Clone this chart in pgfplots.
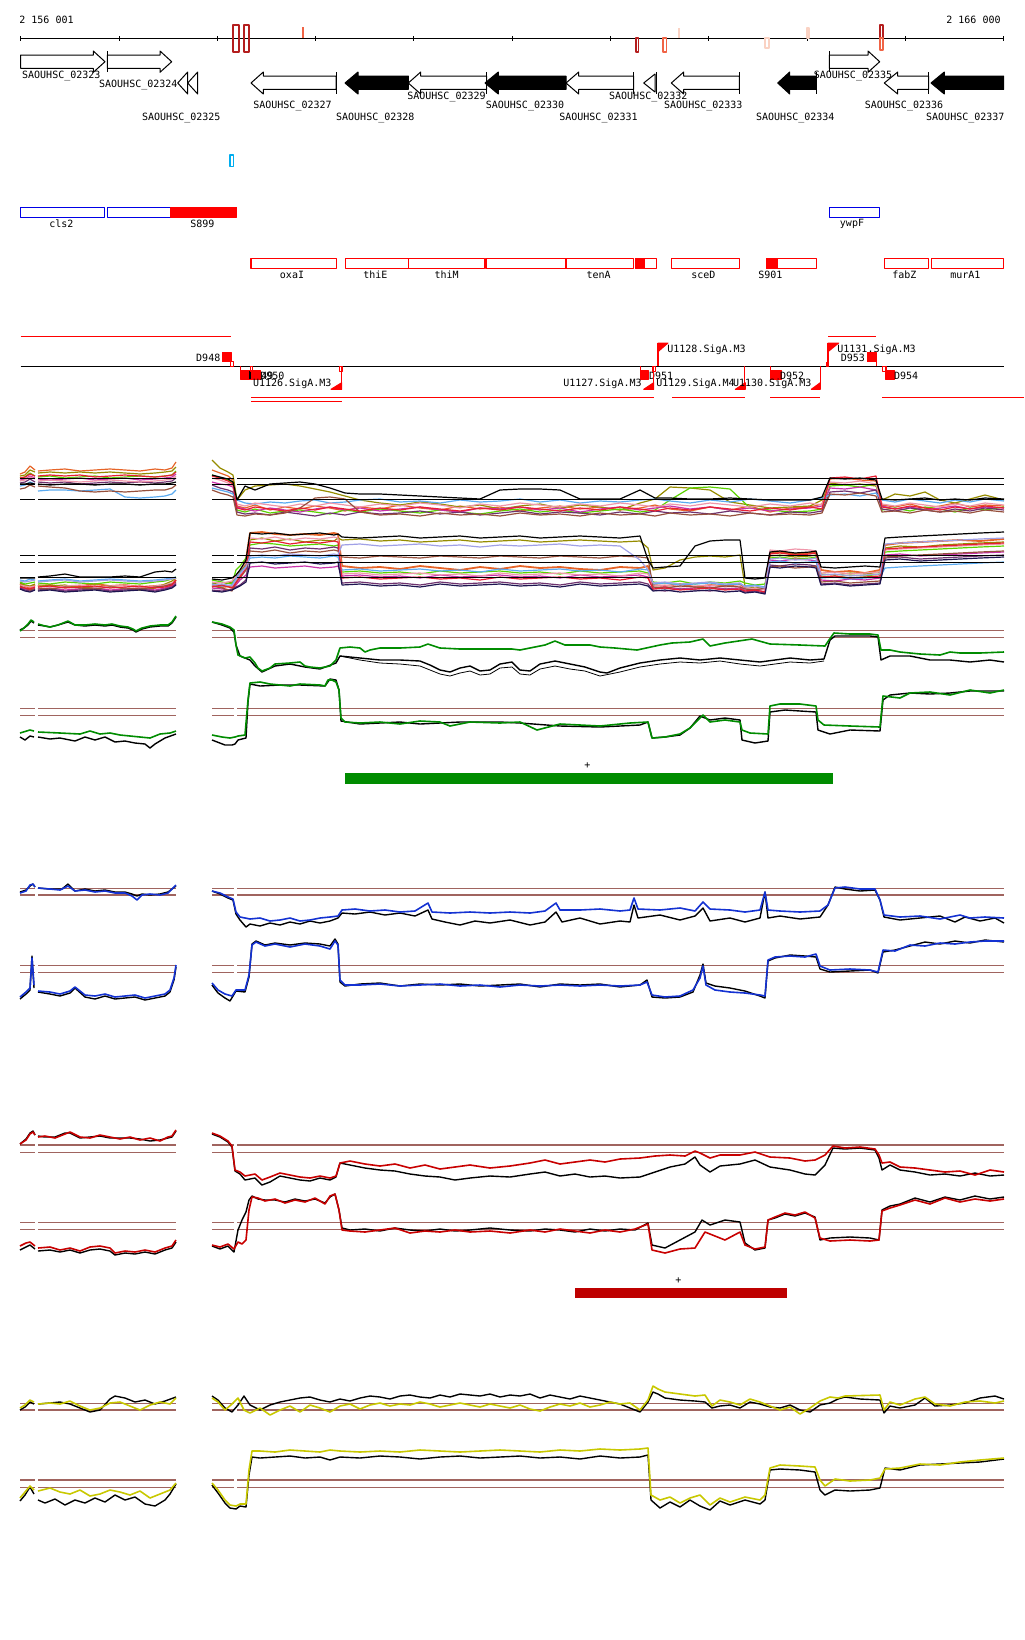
\documentclass[border=0pt]{standalone}
\usepackage{pgfplots}
\usepackage{pgfplotstable}
\pgfplotsset{compat=1.18}
\usepackage{fontspec}
\setmainfont{DejaVu Sans Mono}
\newcommand{\lbl}{\fontsize{5}{6}\selectfont}
\definecolor{brn}{RGB}{160,100,95}
\definecolor{ggr}{RGB}{0,140,0}
\definecolor{bl}{RGB}{20,50,210}
\definecolor{rdd}{RGB}{200,0,0}
\definecolor{rbar}{RGB}{190,0,0}
\definecolor{yl}{RGB}{200,200,0}
\definecolor{fr}{RGB}{255,0,0}
\definecolor{fb}{RGB}{0,0,230}
\definecolor{dkred}{RGB}{180,30,30}
\definecolor{salm}{RGB}{240,100,70}
\definecolor{ltp}{RGB}{250,210,195}
\definecolor{cA}{RGB}{230,100,40}
\definecolor{cB}{RGB}{150,140,0}
\definecolor{cC}{RGB}{90,210,0}
\definecolor{cD}{RGB}{200,50,170}
\definecolor{cE}{RGB}{110,50,110}
\definecolor{cF}{RGB}{90,170,240}
\definecolor{cG}{RGB}{240,150,170}
\definecolor{cH}{RGB}{150,80,60}
\definecolor{cI}{RGB}{230,30,50}
\definecolor{cJ}{RGB}{160,160,230}
\definecolor{cK}{RGB}{30,20,80}
\newcommand{\rect}[5]{\addplot[#1] coordinates {(#2,#3)(#4,#3)(#4,#5)(#2,#5)} -- cycle;}
\newcommand{\vl}[4]{\addplot[#1] coordinates {(#2,#3)(#2,#4)};}
\newcommand{\hl}[2]{\addplot[#1] coordinates {(20,#2)(35,#2)(36,nan)(38,#2)(176,#2)(190,nan)(212,#2)(234,#2)(235.5,nan)(237,#2)(1004,#2)};}
\newcommand{\lab}[4]{\node[font=\lbl,inner sep=0pt,anchor=#1] at (axis cs:#2,#3) {#4};}

\pgfplotstableread{
x c1 c2 c3 c4 c5 c6 c7 c8 c9 k
20 474 476 478 480 483 486 481 489 478 484
25 472 475 477 479 482 485 480 488 477 484
30 466 470 473 476 479 482 477 485 474 483
35 470 472 476 478 482 484 479 487 476 484
36 nan nan nan nan nan nan nan nan nan nan
38 471 473 477 479 482 491 481 486 476 484
50 470 472 476 480 483 490 480 487 475 485
65 469 473 478 479 482 490 481 488 476 484
80 471 472 477 478 484 491 482 491 475 484
95 470 473 476 480 483 490 481 492 477 485
110 469 472 478 479 482 489 480 491 476 484
125 470 473 477 478 483 497 481 492 475 484
140 471 474 476 480 482 498 482 491 476 485
155 469 473 477 479 483 497 481 490 477 484
165 470 472 476 478 482 496 480 490 476 484
172 468 471 475 477 481 494 479 488 475 483
176 462 467 471 474 478 490 476 485 472 482
190 nan nan nan nan nan nan nan nan nan nan
212 470 460 475 482 485 488 478 490 476 475
220 473 468 478 484 488 490 480 493 478 477
228 476 472 480 485 490 492 483 495 481 479
233 480 475 483 487 492 494 486 497 484 482
237 506 500 510 507 512 500 504 515 508 500
245 508 490 512 509 514 503 506 516 510 486
255 505 486 509 511 513 504 503 514 507 490
270 510 485 513 508 515 502 505 515 509 484
285 507 484 511 510 512 503 507 513 511 483
300 509 486 510 512 514 501 504 508 508 482
315 506 489 512 509 516 500 506 498 510 484
330 508 492 514 507 513 503 503 497 507 488
345 511 496 510 510 515 502 505 499 509 493
360 507 500 512 508 512 500 507 512 511 494
380 509 503 509 511 514 499 504 515 508 494
400 505 505 511 509 513 502 506 514 510 495
420 508 502 513 507 511 501 503 516 507 496
440 510 504 510 510 514 503 505 513 509 497
460 506 507 512 512 512 500 508 515 511 498
480 509 505 514 508 515 502 504 514 508 499
500 507 509 511 509 513 501 506 516 510 490
520 511 506 509 507 511 499 503 513 507 489
540 508 504 512 510 514 502 505 515 509 489
560 506 508 510 508 512 500 507 514 511 490
580 509 505 513 512 513 503 504 516 508 499
600 507 507 511 509 515 501 506 513 510 499
620 510 510 509 507 512 502 503 515 507 499
640 508 503 512 510 514 500 505 514 509 490
655 505 499 510 508 511 499 507 516 511 498
670 509 487 500 506 513 501 504 513 508 498
690 511 488 488 509 512 503 506 515 510 499
710 507 490 487 507 514 500 503 514 507 499
730 510 502 489 510 511 502 505 516 509 498
750 506 505 508 508 513 499 507 513 511 499
770 512 508 510 511 515 501 504 515 508 500
790 508 507 512 509 512 503 506 514 510 500
810 507 506 511 508 513 500 503 515 507 500
822 504 500 509 506 511 498 505 513 509 497
830 479 483 486 488 492 495 482 494 478 478
845 478 485 485 489 491 494 483 495 477 479
860 480 484 487 487 493 496 481 493 479 478
876 481 486 484 490 490 493 484 496 476 480
882 505 500 510 506 509 500 504 512 507 499
895 507 494 508 509 511 502 506 511 509 500
910 504 496 511 507 508 499 503 513 506 499
925 508 492 507 510 510 501 505 510 508 498
940 506 500 509 508 512 503 507 512 510 500
955 503 503 512 506 509 500 504 511 507 499
970 507 499 508 509 511 502 506 513 509 500
985 505 495 510 507 508 499 503 510 506 498
1004 506 500 507 508 510 501 505 512 508 499
}\tA

\pgfplotstableread{
x c1 c2 c3 c4 c5 c6 c7 c8 c9 c10 c11 k
20 584 583 582 587 588 580 585 586 587 581 589 578
25 586 585 584 589 590 581 586 588 588 582 591 578
30 588 586 583 590 591 579 587 590 589 581 592 578
35 585 584 582 588 589 580 586 589 587 580 590 578
36 nan nan nan nan nan nan nan nan nan nan nan nan
38 586 585 583 589 590 581 586 588 587 582 591 577
50 585 586 584 588 589 580 587 589 586 581 590 576
65 587 585 582 590 591 579 586 587 588 580 592 574
80 586 588 583 589 590 581 585 588 587 582 591 577
95 584 587 584 588 589 580 587 589 586 581 590 577
110 586 586 582 590 591 579 586 587 588 580 592 577
125 585 589 583 589 590 580 585 588 587 581 591 576
140 587 590 584 588 589 581 587 589 586 582 590 577
155 586 588 582 590 591 580 586 587 588 581 592 572
165 585 584 581 588 589 579 585 586 587 580 590 571
172 584 581 579 586 587 578 583 584 585 579 588 572
176 580 578 577 583 584 577 581 582 580 578 585 569
190 nan nan nan nan nan nan nan nan nan nan nan nan
212 585 583 580 588 590 584 582 586 587 585 591 579
222 587 585 582 589 591 586 583 588 585 584 592 580
232 586 582 584 590 589 585 581 591 588 586 590 578
236 580 578 570 585 587 578 576 582 583 580 588 575
240 575 572 566 580 585 573 570 578 577 574 586 570
246 560 565 558 575 580 566 562 570 568 567 582 560
250 533 540 545 567 548 558 538 551 542 556 563 533
262 532 538 543 566 549 557 539 552 543 555 562 534
275 534 541 544 568 547 558 537 550 541 556 564 533
290 535 539 546 567 550 556 540 553 544 554 563 535
305 534 542 545 566 548 557 538 551 542 555 562 534
320 535 540 544 568 549 558 539 552 543 556 564 533
334 533 541 546 567 547 556 537 550 541 554 563 535
338 534 538 545 566 548 557 538 551 542 555 562 534
342 566 540 572 576 583 570 574 557 578 545 585 537
360 568 539 571 575 582 569 573 558 577 544 584 538
380 567 541 573 577 584 571 575 556 579 546 586 537
400 569 540 572 576 583 570 574 557 578 545 585 536
420 566 542 574 578 585 569 573 558 577 544 587 538
440 568 541 571 575 582 571 575 556 579 546 584 537
460 570 540 573 577 584 570 574 557 578 545 586 536
480 567 542 572 576 583 572 576 558 580 547 585 538
500 569 541 571 575 582 569 573 556 577 545 584 537
520 566 540 573 577 584 571 575 557 579 546 586 536
540 568 542 572 576 583 570 574 558 578 545 585 538
560 567 541 574 578 585 569 573 556 577 544 587 537
580 569 540 571 575 582 571 575 557 579 546 584 536
600 570 541 573 577 584 570 574 558 578 545 586 537
620 567 542 572 576 583 572 576 556 580 546 585 538
640 568 541 571 575 582 569 573 557 577 560 584 536
648 566 548 573 577 584 570 574 558 578 570 586 560
653 585 570 582 588 590 584 586 587 589 583 591 568
665 586 568 583 587 591 583 585 588 588 582 590 567
680 584 560 581 589 589 585 587 586 590 584 592 566
695 587 557 584 588 590 584 586 587 589 583 591 546
710 585 556 582 587 591 583 585 588 588 582 590 541
725 586 557 583 589 589 585 587 586 590 584 592 540
740 584 555 581 588 590 584 586 587 589 583 591 540
745 588 586 583 590 592 586 589 589 591 587 593 578
755 590 588 585 591 591 585 588 590 590 586 592 579
765 589 587 584 589 593 587 590 588 592 588 594 578
770 553 556 558 560 565 562 550 567 554 559 567 552
780 552 555 557 561 566 561 551 566 553 558 568 551
795 554 557 559 559 564 563 549 568 555 560 566 553
810 553 556 558 560 565 562 550 567 554 559 567 552
816 552 555 557 561 566 561 551 566 553 558 568 551
821 570 574 576 580 584 578 573 582 577 575 585 567
835 572 575 577 581 583 577 572 581 576 574 584 568
850 571 573 575 579 585 579 574 583 578 576 586 567
865 573 574 576 580 584 578 573 582 577 575 585 566
880 570 572 574 578 583 577 572 581 576 574 584 567
885 545 548 552 555 558 568 550 557 549 544 560 538
900 543 546 551 554 557 567 549 556 548 543 559 537
920 542 547 550 556 559 566 548 555 547 542 561 536
940 541 545 549 555 558 565 547 554 546 541 560 535
960 540 544 548 554 557 564 546 553 545 540 559 534
980 541 543 547 553 556 563 545 552 544 539 558 533
1004 539 542 546 552 555 562 544 551 543 538 557 532
}\tB

\begin{document}
\begin{tikzpicture}
\begin{axis}[
  width=512pt, height=820pt, scale only axis,
  xmin=0, xmax=1024, ymin=0, ymax=1640, y dir=reverse,
  axis lines=none, ticks=none, clip=false,
  unbounded coords=jump, no markers,
  every axis plot/.append style={line width=0.5pt, line join=round},
]
\addplot[draw=none] coordinates {(0,0)(1024,1640)};

% ---------- ruler ----------
\lab{west}{19}{20}{2 156 001}
\lab{east}{1001}{20}{2 166 000}
\addplot[black] coordinates {(20.7,38.3)(1003.7,38.3)};
\addplot[black] coordinates {(20.7,36.3)(20.7,40.5)(21,nan)(119,36.3)(119,40.5)(120,nan)(217.3,36.3)(217.3,40.5)(218,nan)(315.6,36.3)(315.6,40.5)(316,nan)(413.9,36.3)(413.9,40.5)(414,nan)(512.2,36.3)(512.2,40.5)(513,nan)(610.5,36.3)(610.5,40.5)(611,nan)(708.8,36.3)(708.8,40.5)(709,nan)(807.1,36.3)(807.1,40.5)(808,nan)(905.4,36.3)(905.4,40.5)(906,nan)(1003.7,36.3)(1003.7,40.5)};
\rect{dkred,line width=0.7pt}{233}{25}{239}{52}
\rect{dkred,line width=0.7pt}{244}{25}{249}{52}
\vl{salm,line width=1pt}{302.7}{27}{38}
\rect{dkred,line width=0.7pt}{636}{38}{638.7}{52}
\rect{salm,line width=0.7pt}{663}{38}{666.7}{52}
\vl{ltp,line width=1pt}{679.3}{28}{38}
\rect{ltp,line width=0.7pt}{765}{38}{769}{48}
\rect{ltp,line width=0.7pt}{807}{28}{809}{38}
\rect{dkred,line width=0.7pt}{880}{25}{883}{38}
\rect{salm,line width=0.7pt}{880}{38}{883}{50}

% ---------- genes ----------
\addplot[black,fill=white] coordinates {(20.7,55)(93.3,55)(93.3,51)(105,61.7)(93.3,72.3)(93.3,68.3)(20.7,68.3)} -- cycle;
\addplot[black,fill=white] coordinates {(107.3,55)(160,55)(160,51)(171.7,61.7)(160,72.3)(160,68.3)(107.3,68.3)} -- cycle;
\vl{black}{107.3}{51}{72.3}
\addplot[black,fill=white] coordinates {(177.7,83)(187.7,72)(187.7,94)} -- cycle;
\addplot[black,fill=white] coordinates {(187.7,83)(197.7,72)(197.7,94)} -- cycle;
\addplot[black,fill=white] coordinates {(251,83)(263.3,72)(263.3,76)(336,76)(336,89.3)(263.3,89.3)(263.3,94)} -- cycle;
\vl{black}{336}{72}{94}
\addplot[black,fill=black] coordinates {(345,83)(358,72)(358,76)(408.3,76)(408.3,89.3)(358,89.3)(358,94)} -- cycle;
\addplot[black,fill=white] coordinates {(408.3,83)(420.7,72)(420.7,76)(486.7,76)(486.7,89.3)(420.7,89.3)(420.7,94)} -- cycle;
\vl{black}{486.7}{72}{94}
\addplot[black,fill=black] coordinates {(485,83)(498.3,72)(498.3,76)(566,76)(566,89.3)(498.3,89.3)(498.3,94)} -- cycle;
\addplot[black,fill=white] coordinates {(566,83)(578.7,72)(578.7,76)(633.7,76)(633.7,89.3)(578.7,89.3)(578.7,94)} -- cycle;
\vl{black}{633.7}{72}{94}
\addplot[black,fill=white] coordinates {(643.7,83)(655,74)(655,92)} -- cycle;
\vl{black}{656}{72}{94}
\addplot[black,fill=white] coordinates {(671.3,83)(683.7,72)(683.7,76)(739.3,76)(739.3,89.3)(683.7,89.3)(683.7,94)} -- cycle;
\vl{black}{739.3}{72}{94}
\addplot[black,fill=black] coordinates {(777.7,83)(789.7,72)(789.7,76)(816.3,76)(816.3,89.3)(789.7,89.3)(789.7,94)} -- cycle;
\vl{black}{816.3}{72}{94}
\addplot[black,fill=white] coordinates {(829.3,55)(868,55)(868,51)(879.7,61.7)(868,72.3)(868,68.3)(829.3,68.3)} -- cycle;
\vl{black}{829.3}{51}{72.3}
\addplot[black,fill=white] coordinates {(884.3,83)(897.7,72)(897.7,76)(928.7,76)(928.7,89.3)(897.7,89.3)(897.7,94)} -- cycle;
\vl{black}{928.7}{72}{94}
\addplot[black,fill=black] coordinates {(931,83)(944.3,72)(944.3,76)(1003.7,76)(1003.7,89.3)(944.3,89.3)(944.3,94)} -- cycle;
\lab{center}{61.3}{76}{SAOUHSC\_02323}
\lab{center}{138.3}{85}{SAOUHSC\_02324}
\lab{center}{181.3}{117.7}{SAOUHSC\_02325}
\lab{center}{292.5}{106}{SAOUHSC\_02327}
\lab{center}{375.3}{117.7}{SAOUHSC\_02328}
\lab{center}{446.5}{97}{SAOUHSC\_02329}
\lab{center}{525}{106}{SAOUHSC\_02330}
\lab{center}{598.5}{117.7}{SAOUHSC\_02331}
\lab{center}{648.3}{97}{SAOUHSC\_02332}
\lab{center}{703.3}{106}{SAOUHSC\_02333}
\lab{center}{795.3}{117.7}{SAOUHSC\_02334}
\lab{center}{853}{76}{SAOUHSC\_02335}
\lab{center}{904}{106}{SAOUHSC\_02336}
\lab{center}{965.3}{117.7}{SAOUHSC\_02337}

% ---------- features ----------
\rect{cyan,line width=0.7pt}{230}{155}{233.7}{166.7}
\rect{fb,line width=0.7pt}{20.7}{207.3}{104.3}{217.3}
\rect{fb,line width=0.7pt}{107.3}{207.3}{171}{217.3}
\rect{fr,fill=fr,line width=0.7pt}{171}{207.3}{236.7}{217.3}
\rect{fb,line width=0.7pt}{829.3}{207.3}{879.3}{217.3}
\lab{center}{61.3}{224}{cls2}
\lab{center}{202.3}{224}{S899}
\lab{center}{852}{224}{ywpF}
\rect{fr,line width=0.7pt}{251}{258.3}{336.7}{268.3}
\rect{fr,line width=0.7pt}{345.3}{258.3}{408.3}{268.3}
\rect{fr,line width=0.7pt}{408.3}{258.3}{484.3}{268.3}
\rect{fr,line width=0.7pt}{486}{258.3}{566}{268.3}
\rect{fr,line width=0.7pt}{566}{258.3}{633.7}{268.3}
\rect{fr,line width=0.7pt}{636}{258.3}{656.7}{268.3}
\rect{fr,fill=fr,line width=0.7pt}{636}{258.3}{644}{268.3}
\rect{fr,line width=0.7pt}{671.3}{258.3}{739.7}{268.3}
\rect{fr,line width=0.7pt}{767}{258.3}{816.3}{268.3}
\rect{fr,fill=fr,line width=0.7pt}{767}{258.3}{777.7}{268.3}
\rect{fr,line width=0.7pt}{884.3}{258.3}{928.7}{268.3}
\rect{fr,line width=0.7pt}{931.3}{258.3}{1003.7}{268.3}
\lab{center}{292}{275}{oxaI}
\lab{center}{375.3}{275}{thiE}
\lab{center}{446.7}{275}{thiM}
\lab{center}{598.7}{275}{tenA}
\lab{center}{703.3}{275}{sceD}
\lab{center}{770.3}{275}{S901}
\lab{center}{904.3}{275}{fabZ}
\lab{center}{965.3}{275}{murA1}

% ---------- regulatory track ----------
\addplot[fr,line width=0.7pt] coordinates {(20.7,336.3)(230.7,336.3)};
\addplot[fr,line width=0.7pt] coordinates {(828,336.3)(876.3,336.3)};
\addplot[black,line width=0.6pt] coordinates {(20.7,366.3)(1003.7,366.3)};
\rect{fr,fill=fr}{222.3}{352.7}{231.7}{361.7}
\rect{fr}{230.7}{361.7}{233.3}{366.3}
\lab{east}{220.7}{357.7}{D948}
\lab{west}{249}{376}{D949}
\vl{fr,line width=0.7pt}{240.7}{366.3}{379.3}
\rect{fr,fill=fr}{240}{370.7}{260}{379.3}
\vl{black,line width=0.7pt}{250}{370.7}{379.3}
\rect{fr}{250}{366.3}{252.3}{371}
\lab{west}{260}{376}{D950}
\lab{west}{252.7}{383.3}{U1126.SigA.M3}
\vl{fr,line width=0.7pt}{341.3}{366.3}{389.3}
\rect{fr}{339.3}{366.3}{342.7}{371}
\addplot[fr,fill=fr] coordinates {(331,389.3)(341.7,389.3)(341.7,382.7)} -- cycle;
\vl{fr,line width=0.7pt}{640.3}{366.3}{379.3}
\rect{fr,fill=fr}{640.3}{370.7}{648.7}{379.3}
\rect{fr}{652.7}{366.3}{655.3}{371}
\lab{west}{648.7}{376}{D951}
\lab{east}{642}{383.3}{U1127.SigA.M3}
\vl{fr,line width=0.7pt}{653.7}{366.3}{389.3}
\addplot[fr,fill=fr] coordinates {(643.7,389.3)(653.7,389.3)(653.7,382.7)} -- cycle;
\vl{fr,line width=0.7pt}{658}{343}{366.3}
\addplot[fr,fill=fr] coordinates {(658,343)(668,343)(658,351.7)} -- cycle;
\lab{west}{667}{350}{U1128.SigA.M3}
\lab{west}{656}{383.3}{U1129.SigA.M4}
\vl{fr,line width=0.7pt}{744.7}{366.3}{389.3}
\addplot[fr,fill=fr] coordinates {(735.3,389.3)(745.3,389.3)(745.3,382.7)} -- cycle;
\vl{fr,line width=0.7pt}{770.7}{366.3}{379.3}
\rect{fr,fill=fr}{770.7}{370.7}{781.3}{379.3}
\lab{west}{779.7}{376}{D952}
\lab{west}{732.7}{383.3}{U1130.SigA.M3}
\vl{fr,line width=0.7pt}{820.3}{366.3}{389.3}
\addplot[fr,fill=fr] coordinates {(811.3,389.3)(820.3,389.3)(820.3,382.7)} -- cycle;
\vl{fr,line width=0.7pt}{828}{343}{366.3}
\addplot[fr,fill=fr] coordinates {(828,343)(838.7,343)(828,351.7)} -- cycle;
\rect{fr}{826}{362.3}{828.7}{366.3}
\lab{west}{837}{350}{U1131.SigA.M3}
\rect{fr,fill=fr}{867}{352.7}{876.3}{361.7}
\vl{fr,line width=0.7pt}{876.3}{352.7}{366.3}
\lab{east}{865.3}{358.3}{D953}
\rect{fr}{882}{366.3}{886}{371}
\vl{fr,line width=0.7pt}{885.3}{366.3}{379.3}
\rect{fr,fill=fr}{885.3}{370.7}{894.7}{379.3}
\lab{west}{893.7}{376}{D954}
\addplot[fr,line width=0.7pt] coordinates {(251,397.3)(653.7,397.3)};
\addplot[fr,line width=0.7pt] coordinates {(672,397.3)(745.3,397.3)};
\addplot[fr,line width=0.7pt] coordinates {(770.3,397.3)(820.3,397.3)};
\addplot[fr,line width=0.7pt] coordinates {(882,397.3)(1024,397.3)};
\addplot[fr,line width=0.7pt] coordinates {(251,401.3)(341.7,401.3)};

% ---------- multi-colour panel 1 ----------
\addplot[cA,line width=0.6pt] table[x=x,y=c1]{\tA};
\addplot[cB,line width=0.6pt] table[x=x,y=c2]{\tA};
\addplot[cC,line width=0.6pt] table[x=x,y=c3]{\tA};
\addplot[cD,line width=0.6pt] table[x=x,y=c4]{\tA};
\addplot[cE,line width=0.6pt] table[x=x,y=c5]{\tA};
\addplot[cF,line width=0.6pt] table[x=x,y=c6]{\tA};
\addplot[cG,line width=0.6pt] table[x=x,y=c7]{\tA};
\addplot[cH,line width=0.6pt] table[x=x,y=c8]{\tA};
\addplot[cI,line width=0.6pt] table[x=x,y=c9]{\tA};
\addplot[black,line width=0.6pt] table[x=x,y=k]{\tA};
\hl{black,line width=0.7pt}{478.3}
\hl{black,line width=0.7pt}{484.3}
\hl{black,line width=0.7pt}{499.3}

% ---------- multi-colour panel 2 ----------
\addplot[cA,line width=0.9pt] table[x=x,y=c1]{\tB};
\addplot[cB,line width=0.6pt] table[x=x,y=c2]{\tB};
\addplot[cC,line width=0.6pt] table[x=x,y=c3]{\tB};
\addplot[cD,line width=0.6pt] table[x=x,y=c4]{\tB};
\addplot[cE,line width=0.6pt] table[x=x,y=c5]{\tB};
\addplot[cF,line width=0.6pt] table[x=x,y=c6]{\tB};
\addplot[cG,line width=0.6pt] table[x=x,y=c7]{\tB};
\addplot[cH,line width=0.6pt] table[x=x,y=c8]{\tB};
\addplot[cI,line width=0.6pt] table[x=x,y=c9]{\tB};
\addplot[cJ,line width=0.6pt] table[x=x,y=c10]{\tB};
\addplot[cK,line width=0.6pt] table[x=x,y=c11]{\tB};
\addplot[black,line width=0.6pt] table[x=x,y=k]{\tB};
\hl{black,line width=0.7pt}{555.3}
\hl{black,line width=0.7pt}{562.3}
\hl{black,line width=0.7pt}{577.3}

% ---------- green panels ----------
\hl{brn,line width=0.6pt}{630.3}
\hl{brn,line width=0.6pt}{637.3}
\addplot[black,line width=0.4pt] coordinates {(340,656)(360,660)(380,663)(400,664)(420,666)(430,670)(440,674)(450,676)(460,673)(470,671)(480,675)(490,674)(500,668)(512,667)(520,674)(530,675)(540,669)(555,666)(570,669)(585,671)(600,676)(620,672)(640,667)(660,664)(680,662)(700,663)(720,661)(740,664)(760,666)(790,662)(810,663)(824,661)};
\addplot[black,line width=0.7pt] coordinates {(20,630)(24,628)(28,625)(31,621)(34,623)(36,nan)(38,625)(45,626)(50,627)(58,625)(68,622)(75,625)(85,626)(95,625)(105,626)(112,625)(120,627)(128,628)(133,630)(136,632)(142,629)(150,627)(160,626)(168,626)(172,623)(176,617)(190,nan)
(212,622)(222,625)(230,628)(234,632)(236,645)(240,656)(250,660)(255,666)(262,672)(275,666)(290,664)(305,667)(320,669)(336,663)(340,656)(360,658)(380,660)(400,660)(420,661)(430,665)(440,670)(450,672)(460,668)(470,666)(480,671)(490,670)(500,664)(512,662)(520,670)(530,671)(540,664)(555,661)(570,664)(585,667)(600,672)(607,673)(620,668)(640,663)(660,660)(680,658)(700,660)(720,658)(740,660)(760,662)(790,658)(810,660)(824,659)(830,640)(835,636)(850,636)(870,636)(878,637)(881,660)(890,656)(910,656)(930,660)(950,660)(970,662)(990,660)(1004,662)};
\addplot[ggr,line width=0.8pt] coordinates {(20,631)(24,628)(28,624)(31,620)(34,622)(36,nan)(38,624)(45,626)(50,627)(58,625)(68,621)(75,625)(85,625)(95,624)(105,625)(112,624)(120,626)(128,627)(133,629)(136,631)(142,628)(150,626)(160,625)(168,625)(172,622)(176,616)(190,nan)
(212,622)(222,624)(230,627)(234,630)(236,645)(238,655)(245,658)(250,657)(255,663)(258,668)(262,671)(270,668)(275,664)(290,663)(300,662)(305,666)(310,667)(320,668)(330,666)(336,660)(340,648)(350,647)(360,648)(365,652)(370,650)(380,648)(400,648)(420,647)(428,644)(440,648)(460,649)(480,649)(500,649)(512,649)(520,650)(530,648)(545,645)(555,641)(565,645)(590,645)(600,647)(615,648)(637,650)(660,645)(672,643)(690,642)(703,639)(710,646)(725,643)(752,639)(770,644)(800,645)(825,646)(829,640)(834,633)(850,634)(870,634)(878,635)(881,650)(890,650)(900,652)(920,654)(940,655)(950,652)(960,653)(980,653)(1004,652)};

\hl{brn,line width=0.6pt}{708.3}
\hl{brn,line width=0.6pt}{715.3}
\addplot[black,line width=0.7pt] coordinates {(20,737)(25,740)(30,736)(34,737)(36,nan)(38,737)(50,739)(60,738)(75,741)(85,737)(95,740)(105,737)(115,742)(125,741)(135,743)(145,744)(150,748)(155,744)(165,738)(176,734)(190,nan)
(212,740)(225,745)(232,745)(235,744)(238,740)(246,738)(248,702)(250,684)(260,686)(280,685)(300,685)(325,686)(330,679)(336,680)(339,690)(341,721)(360,724)(380,723)(400,722)(420,724)(440,723)(460,722)(500,722)(520,723)(560,726)(600,727)(640,725)(648,722)(652,738)(665,737)(680,735)(690,728)(700,716)(710,720)(725,718)(740,720)(742,740)(755,743)(768,741)(770,712)(785,710)(800,711)(816,712)(818,730)(830,734)(850,730)(880,731)(883,700)(890,695)(910,693)(930,694)(950,693)(970,691)(1004,691)};
\addplot[ggr,line width=0.8pt] coordinates {(20,733)(30,730)(34,731)(36,nan)(38,732)(60,733)(80,734)(90,731)(100,734)(110,733)(120,735)(130,736)(140,737)(150,738)(160,734)(170,733)(176,731)(190,nan)
(212,735)(222,737)(230,738)(235,737)(238,736)(245,735)(248,700)(250,683)(260,682)(270,684)(290,686)(300,684)(320,685)(325,686)(328,680)(332,680)(336,682)(339,690)(341,718)(345,722)(360,723)(380,722)(400,724)(420,721)(440,722)(450,726)(470,722)(500,723)(520,722)(537,730)(560,724)(600,726)(630,723)(648,722)(652,738)(665,737)(680,734)(690,728)(703,715)(710,722)(725,720)(740,722)(742,730)(750,733)(768,734)(770,706)(780,704)(800,704)(816,706)(818,720)(824,725)(850,726)(880,727)(883,696)(900,698)(910,693)(930,692)(950,695)(970,690)(990,693)(1004,690)};
\rect{ggr,fill=ggr,draw=none}{345}{773}{832.6}{783.5}
\lab{center}{587.3}{766}{+}

% ---------- blue panels ----------
\hl{brn,line width=0.6pt}{888.3}
\hl{brn,line width=0.6pt}{895}
\addplot[black,line width=0.7pt] coordinates {(20,892)(26,890)(30,886)(33,884)(35,887)(36,nan)(38,888)(50,889)(62,889)(68,884)(75,891)(85,889)(95,891)(105,890)(115,892)(125,892)(132,894)(137,896)(142,894)(150,895)(160,894)(168,892)(176,886)(190,nan)
(212,891)(220,894)(228,898)(233,900)(236,914)(240,920)(246,927)(250,924)(260,926)(270,923)(280,925)(290,922)(300,924)(310,921)(320,923)(330,921)(338,918)(342,913)(355,914)(370,912)(385,915)(400,913)(415,916)(428,910)(432,919)(445,922)(460,925)(475,921)(490,923)(510,920)(530,925)(545,922)(556,912)(562,922)(580,918)(600,924)(620,921)(630,922)(634,905)(638,918)(660,915)(680,920)(695,916)(703,908)(710,921)(730,918)(745,922)(760,918)(765,892)(768,918)(780,916)(800,919)(820,917)(828,905)(835,887)(845,889)(860,891)(875,890)(880,900)(884,917)(900,920)(920,918)(940,916)(955,922)(965,917)(980,921)(995,918)(1004,923)};
\addplot[bl,line width=0.8pt] coordinates {(20,893)(26,891)(30,885)(33,884)(35,887)(36,nan)(38,888)(50,889)(60,890)(68,886)(75,891)(85,890)(95,892)(105,891)(115,893)(125,893)(132,896)(137,900)(142,895)(150,894)(160,895)(168,893)(176,885)(190,nan)
(212,891)(220,893)(228,897)(233,899)(236,912)(240,917)(250,919)(260,918)(270,921)(280,920)(290,918)(300,921)(310,920)(320,918)(330,917)(338,916)(342,910)(355,909)(370,911)(385,910)(400,912)(415,911)(428,903)(432,912)(450,913)(470,912)(490,913)(510,912)(530,913)(545,911)(556,903)(560,910)(580,910)(600,909)(620,911)(630,910)(634,898)(638,909)(660,910)(680,908)(695,911)(703,902)(710,909)(730,910)(745,912)(760,910)(765,892)(768,910)(780,911)(800,912)(820,911)(828,905)(835,888)(845,887)(860,889)(875,889)(880,900)(884,915)(900,917)(920,916)(940,919)(960,915)(970,918)(985,917)(1004,918)};

\hl{brn,line width=0.6pt}{965.7}
\hl{brn,line width=0.6pt}{972.3}
\addplot[black,line width=0.7pt] coordinates {(20,999)(26,994)(30,990)(32,956)(34,988)(36,nan)(38,992)(50,994)(60,996)(70,993)(75,988)(85,997)(95,999)(105,996)(115,999)(125,998)(135,997)(145,1000)(155,998)(165,996)(170,992)(174,980)(176,967)(190,nan)
(212,985)(218,993)(225,998)(230,1001)(236,991)(245,992)(249,977)(252,944)(256,941)(265,945)(275,943)(290,945)(305,943)(320,944)(330,946)(335,939)(338,944)(340,982)(345,986)(360,984)(380,983)(400,986)(420,984)(440,985)(460,984)(480,986)(500,985)(520,984)(540,987)(560,984)(580,985)(600,984)(620,987)(640,985)(647,980)(652,997)(665,998)(680,997)(693,992)(700,975)(703,964)(706,983)(715,986)(730,988)(745,991)(760,996)(765,998)(768,961)(775,958)(790,955)(805,956)(816,957)(820,969)(830,972)(850,971)(870,970)(878,973)(883,952)(895,950)(910,946)(925,942)(940,944)(955,941)(970,943)(985,940)(1004,942)};
\addplot[bl,line width=0.8pt] coordinates {(20,997)(26,992)(30,988)(32,958)(34,985)(36,nan)(38,991)(50,992)(60,994)(70,991)(75,987)(85,995)(95,996)(105,994)(115,997)(125,996)(135,995)(145,998)(155,996)(165,994)(170,990)(174,978)(176,965)(190,nan)
(212,983)(218,990)(225,994)(232,996)(236,990)(245,990)(249,975)(252,945)(256,942)(265,946)(275,944)(290,947)(305,944)(320,946)(330,949)(335,941)(338,945)(340,980)(345,985)(360,985)(380,984)(400,986)(420,985)(440,984)(460,986)(480,985)(500,987)(520,985)(540,986)(560,985)(580,986)(600,985)(620,986)(640,985)(647,982)(652,995)(665,997)(680,996)(693,990)(700,978)(703,966)(706,985)(715,990)(730,992)(745,993)(760,995)(765,996)(768,960)(775,957)(790,956)(805,957)(816,954)(820,966)(830,970)(850,969)(870,970)(878,972)(883,950)(895,951)(910,945)(925,946)(940,943)(955,944)(970,942)(985,941)(1004,941)};

% ---------- red panels ----------
\hl{brn,line width=0.6pt}{1145}
\hl{brn,line width=0.6pt}{1152.3}
\addplot[black,line width=0.7pt] coordinates {(20,1144)(26,1139)(30,1133)(33,1131)(35,1135)(36,nan)(38,1136)(45,1137)(55,1137)(65,1133)(70,1133)(80,1138)(90,1137)(100,1136)(110,1138)(120,1138)(130,1138)(140,1139)(150,1141)(160,1140)(168,1138)(172,1137)(176,1131)(190,nan)
(212,1134)(220,1137)(228,1142)(232,1147)(235,1171)(240,1174)(245,1180)(255,1178)(262,1185)(270,1182)(280,1176)(290,1178)(300,1180)(310,1181)(320,1178)(330,1180)(336,1177)(340,1163)(350,1165)(365,1168)(380,1170)(395,1171)(410,1174)(425,1176)(440,1177)(455,1180)(470,1178)(490,1176)(510,1177)(530,1174)(545,1172)(560,1176)(575,1174)(590,1177)(605,1176)(620,1178)(640,1177)(655,1172)(670,1167)(685,1164)(695,1157)(700,1165)(710,1172)(720,1166)(740,1164)(755,1160)(770,1167)(790,1170)(805,1174)(815,1175)(825,1165)(833,1148)(845,1149)(860,1148)(875,1150)(879,1158)(882,1170)(890,1165)(900,1170)(915,1172)(930,1175)(945,1174)(960,1176)(975,1173)(990,1176)(1004,1175)};
\addplot[rdd,line width=0.8pt] coordinates {(20,1144)(26,1140)(30,1134)(33,1132)(35,1135)(36,nan)(38,1137)(45,1136)(55,1138)(65,1134)(70,1132)(80,1137)(90,1138)(100,1135)(110,1137)(120,1139)(130,1137)(140,1140)(150,1138)(160,1141)(168,1137)(172,1136)(176,1130)(190,nan)
(212,1133)(220,1136)(228,1141)(232,1146)(235,1170)(240,1172)(245,1176)(255,1174)(262,1180)(270,1177)(280,1173)(290,1175)(300,1177)(310,1178)(320,1176)(330,1178)(336,1176)(340,1163)(350,1161)(365,1164)(380,1166)(395,1164)(410,1168)(425,1165)(440,1169)(455,1167)(470,1165)(490,1168)(510,1166)(530,1163)(545,1160)(560,1164)(575,1162)(590,1160)(605,1162)(620,1159)(640,1158)(655,1156)(670,1155)(685,1156)(695,1151)(700,1153)(710,1158)(720,1155)(740,1155)(755,1152)(770,1157)(790,1158)(805,1161)(815,1160)(825,1155)(833,1146)(845,1148)(860,1147)(875,1149)(879,1155)(882,1163)(890,1162)(900,1167)(915,1168)(930,1170)(945,1172)(960,1171)(975,1175)(990,1170)(1004,1172)};

\hl{brn,line width=0.6pt}{1222.3}
\hl{brn,line width=0.6pt}{1229.3}
\addplot[black,line width=0.7pt] coordinates {(20,1250)(26,1247)(30,1245)(35,1249)(36,nan)(38,1251)(50,1250)(60,1252)(70,1250)(80,1253)(90,1250)(100,1249)(110,1251)(115,1255)(125,1253)(135,1254)(145,1252)(155,1254)(165,1250)(172,1248)(176,1242)(190,nan)
(212,1246)(220,1249)(228,1246)(234,1252)(238,1230)(242,1220)(246,1212)(249,1200)(252,1196)(258,1199)(265,1200)(275,1200)(285,1202)(295,1199)(305,1201)(315,1199)(325,1203)(330,1197)(335,1194)(339,1210)(342,1228)(350,1230)(365,1229)(380,1231)(395,1228)(410,1230)(425,1231)(440,1229)(455,1231)(470,1230)(490,1228)(510,1230)(530,1231)(545,1229)(560,1230)(575,1232)(590,1229)(605,1231)(620,1229)(635,1230)(648,1223)(652,1245)(665,1248)(680,1240)(695,1232)(702,1220)(710,1225)(725,1220)(740,1222)(745,1243)(755,1250)(765,1248)(768,1220)(775,1218)(785,1214)(795,1216)(805,1213)(815,1217)(820,1240)(830,1238)(850,1237)(870,1238)(879,1240)(882,1210)(890,1206)(900,1204)(915,1198)(930,1202)(945,1197)(960,1200)(975,1196)(990,1199)(1004,1197)};
\addplot[rdd,line width=0.8pt] coordinates {(20,1246)(26,1243)(30,1242)(35,1246)(36,nan)(38,1248)(50,1247)(60,1250)(70,1248)(80,1251)(90,1247)(100,1246)(110,1248)(115,1253)(125,1251)(135,1252)(145,1250)(155,1252)(165,1248)(172,1246)(176,1240)(190,nan)
(212,1245)(220,1247)(228,1244)(234,1249)(238,1242)(242,1244)(246,1240)(249,1210)(252,1197)(258,1198)(265,1201)(275,1199)(285,1203)(295,1200)(305,1202)(315,1198)(325,1204)(330,1196)(335,1194)(339,1210)(342,1230)(350,1231)(365,1232)(380,1230)(395,1228)(410,1233)(425,1231)(440,1232)(455,1230)(470,1232)(490,1231)(510,1233)(530,1230)(545,1232)(560,1229)(575,1231)(590,1233)(605,1230)(620,1232)(635,1229)(648,1224)(652,1250)(665,1253)(680,1249)(695,1248)(705,1232)(715,1236)(725,1240)(740,1232)(745,1245)(755,1249)(765,1247)(768,1220)(775,1217)(785,1213)(795,1215)(805,1212)(815,1218)(820,1238)(830,1241)(850,1240)(870,1241)(879,1240)(882,1211)(890,1208)(900,1205)(915,1200)(930,1204)(945,1198)(960,1202)(975,1199)(990,1201)(1004,1199)};
\rect{rbar,fill=rbar,draw=none}{575}{1288}{787}{1298}
\lab{center}{678.4}{1280.7}{+}

% ---------- yellow panels ----------
\hl{brn,line width=0.6pt}{1403.3}
\hl{brn,line width=0.6pt}{1410}
\addplot[black,line width=0.7pt] coordinates {(20,1410)(25,1407)(30,1402)(34,1404)(36,nan)(38,1404)(50,1403)(60,1402)(70,1404)(80,1408)(90,1412)(100,1410)(110,1399)(115,1396)(125,1398)(135,1402)(145,1400)(155,1404)(165,1401)(176,1397)(190,nan)
(212,1396)(218,1400)(225,1408)(232,1412)(238,1405)(244,1396)(250,1405)(260,1410)(270,1405)(280,1402)(290,1400)(300,1398)(310,1397)(320,1400)(330,1402)(340,1399)(350,1401)(360,1398)(370,1396)(380,1397)(390,1399)(400,1396)(410,1395)(420,1397)(430,1398)(440,1395)(450,1397)(460,1394)(470,1395)(480,1396)(490,1394)(500,1397)(510,1395)(520,1396)(530,1394)(540,1398)(550,1395)(560,1397)(570,1399)(580,1396)(590,1398)(600,1400)(610,1402)(620,1404)(630,1408)(640,1412)(648,1402)(653,1392)(658,1394)(665,1398)(680,1400)(695,1401)(705,1402)(712,1408)(720,1406)(730,1405)(740,1408)(750,1402)(760,1404)(770,1407)(780,1408)(790,1405)(800,1410)(810,1412)(820,1405)(830,1403)(838,1399)(845,1397)(860,1399)(880,1400)(884,1413)(890,1406)(900,1408)(915,1405)(925,1398)(935,1406)(950,1405)(965,1403)(980,1398)(995,1396)(1004,1399)};
\addplot[yl,line width=0.8pt] coordinates {(20,1408)(25,1405)(30,1400)(34,1402)(36,nan)(38,1404)(50,1403)(60,1404)(70,1401)(80,1406)(90,1410)(100,1408)(110,1403)(120,1402)(130,1406)(140,1410)(150,1405)(160,1402)(170,1404)(176,1398)(190,nan)
(212,1398)(218,1402)(225,1410)(232,1404)(238,1398)(244,1410)(250,1413)(260,1408)(270,1415)(280,1410)(290,1406)(300,1412)(310,1405)(320,1408)(330,1412)(340,1406)(350,1404)(360,1409)(370,1405)(380,1403)(390,1406)(400,1404)(410,1405)(420,1402)(430,1404)(440,1407)(450,1405)(460,1403)(470,1405)(480,1407)(490,1404)(500,1406)(510,1408)(520,1405)(530,1409)(540,1411)(550,1407)(560,1404)(570,1406)(580,1403)(590,1407)(600,1405)(610,1402)(620,1404)(630,1403)(640,1410)(648,1400)(653,1386)(658,1389)(665,1392)(680,1394)(695,1396)(705,1395)(712,1406)(720,1400)(730,1402)(740,1405)(750,1399)(760,1402)(770,1406)(780,1410)(790,1407)(800,1414)(810,1408)(820,1401)(830,1397)(838,1398)(845,1396)(880,1395)(884,1410)(890,1402)(900,1405)(915,1399)(925,1397)(935,1404)(950,1406)(965,1402)(980,1401)(995,1403)(1004,1401)};

\hl{brn,line width=0.6pt}{1480}
\hl{brn,line width=0.6pt}{1487.3}
\addplot[black,line width=0.7pt] coordinates {(20,1501)(25,1495)(30,1487)(34,1494)(36,nan)(38,1500)(45,1503)(55,1499)(65,1505)(75,1500)(85,1503)(95,1498)(105,1502)(115,1495)(125,1500)(135,1497)(145,1504)(155,1506)(165,1500)(170,1494)(176,1484)(190,nan)
(212,1485)(218,1493)(225,1503)(230,1508)(236,1509)(240,1506)(246,1507)(249,1475)(252,1457)(260,1458)(275,1457)(290,1456)(305,1458)(320,1457)(330,1460)(340,1457)(360,1458)(380,1456)(400,1457)(420,1459)(440,1457)(460,1456)(480,1458)(500,1457)(520,1456)(540,1458)(560,1457)(580,1459)(600,1456)(620,1458)(640,1457)(648,1455)(651,1500)(660,1508)(670,1502)(680,1507)(690,1500)(700,1506)(710,1510)(720,1501)(730,1505)(745,1500)(760,1504)(765,1500)(770,1470)(780,1469)(800,1470)(815,1472)(820,1490)(825,1495)(835,1490)(850,1491)(870,1490)(880,1488)(885,1468)(900,1470)(920,1465)(940,1464)(960,1463)(980,1462)(1004,1459)};
\addplot[yl,line width=0.8pt] coordinates {(20,1498)(25,1492)(30,1486)(34,1490)(36,nan)(38,1491)(50,1488)(60,1492)(70,1494)(80,1490)(90,1496)(100,1494)(110,1490)(120,1492)(130,1495)(140,1491)(150,1498)(160,1494)(170,1490)(176,1483)(190,nan)
(212,1483)(218,1490)(225,1500)(230,1505)(236,1506)(240,1504)(246,1504)(249,1470)(252,1451)(260,1451)(275,1452)(290,1450)(305,1451)(320,1452)(330,1450)(340,1451)(360,1452)(380,1451)(400,1452)(420,1450)(440,1451)(460,1452)(480,1451)(500,1450)(520,1451)(540,1452)(560,1450)(580,1451)(600,1449)(620,1450)(640,1449)(648,1448)(651,1495)(660,1500)(670,1497)(680,1503)(690,1498)(700,1495)(710,1505)(720,1498)(730,1502)(745,1497)(760,1500)(765,1495)(770,1468)(780,1465)(800,1466)(815,1467)(820,1480)(825,1486)(835,1479)(850,1481)(870,1480)(880,1478)(885,1469)(900,1468)(920,1464)(940,1465)(960,1462)(980,1460)(1004,1458)};
\end{axis}
\end{tikzpicture}
\end{document}
